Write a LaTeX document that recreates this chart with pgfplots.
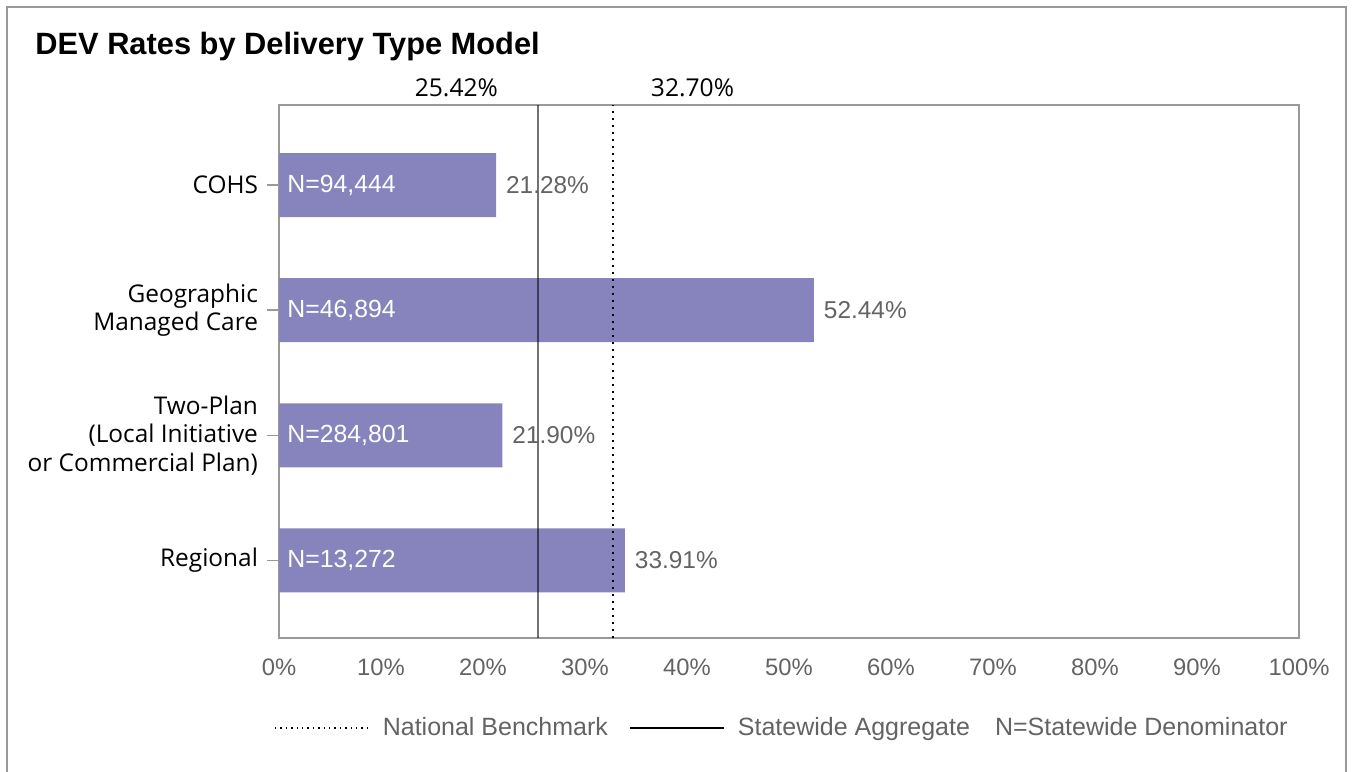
\documentclass[border=0pt]{standalone}
\usepackage{pgfplots}
\pgfplotsset{compat=1.18}
\usepackage{fontspec}
\setmainfont{Liberation Sans}
\newfontfamily\osans{Open Sans}
\definecolor{barcol}{HTML}{8783BD}
\definecolor{txtgray}{HTML}{636363}
\definecolor{framegray}{HTML}{999999}

\begin{document}
\begin{tikzpicture}
% page: 1352 x 771 px at 0.5pt per px
\path[use as bounding box] (0pt,0pt) rectangle (676pt,385.5pt);
\draw[framegray, line width=0.9pt] (3.5pt,-5pt) -- (3.5pt,382pt) -- (673pt,382pt) -- (673pt,-5pt);
\node[anchor=base west, inner sep=0, font=\bfseries\fontsize{15.4}{18}\selectfont] at (17.5pt,358pt) {DEV Rates by Delivery Type Model};

\begin{axis}[
  at={(139.5pt,66.5pt)}, anchor=south west,
  scale only axis, width=510pt, height=266.5pt,
  xmin=0, xmax=100, ymin=-0.62, ymax=3.64,
  axis line style={framegray, line width=0.8pt},
  xtick={0,10,...,100},
  xticklabel={\pgfmathprintnumber{\tick}\%},
  /pgf/number format/assume math mode=true,
  xticklabel style={text=txtgray, font=\fontsize{11.9}{14}\selectfont, yshift=-1pt},
  xtick style={draw=none},
  ytick={0,1,2,3},
  yticklabels={Regional,{Two-Plan\\(Local Initiative\\or Commercial Plan)},{Geographic\\Managed Care},COHS},
  yticklabel style={align=right, font=\osans\fontsize{12.2}{14.2}\selectfont, xshift=-1pt},
  ytick pos=left, tick align=outside, major tick length=6pt,
  ytick style={framegray, line width=0.8pt},
  legend columns=3,
  legend style={at={(0.494,-0.169)}, anchor=center, draw=none, fill=none,
    font=\fontsize{12.5}{14}\selectfont, text=txtgray,
    /tikz/every odd column/.append style={column sep=4.5pt},
    /tikz/every even column/.append style={column sep=8.5pt}},
  legend image code/.code={\draw[#1] (0pt,0pt) -- (47pt,0pt);},
  clip=false,
]
% bars with rate labels
\addplot[xbar, fill=barcol, draw=none, bar width=32pt, forget plot,
  point meta=x,
  nodes near coords={\pgfmathprintnumber[fixed,fixed zerofill,precision=2]{\pgfplotspointmeta}\%},
  nodes near coords style={text=txtgray, font=\fontsize{12.2}{14}\selectfont, xshift=1.5pt}]
  coordinates {(21.28,3) (52.44,2) (21.90,1) (33.91,0)};
% denominators inside the bars
\addplot[draw=none, mark=none, forget plot,
  point meta=explicit symbolic,
  nodes near coords,
  nodes near coords align=horizontal,
  every node near coord/.append style={anchor=west, text=white, inner sep=0pt, xshift=4pt,
    font=\fontsize{12.4}{14}\selectfont}]
  coordinates {(0,3) [N=94,444] (0,2) [N=46,894] (0,1) [N=284,801] (0,0) [N=13,272]};
% statewide aggregate and national benchmark
\addplot[black, opacity=0.55, line width=0.9pt, forget plot]
  coordinates {(25.42,-0.62) (25.42,3.64)};
\addplot[black, line width=1pt, dash pattern=on 0.9pt off 2.6pt, forget plot]
  coordinates {(32.70,-0.62) (32.70,3.64)};
\node[anchor=base east, inner sep=0, font=\osans\fontsize{12.3}{14}\selectfont] at ([xshift=-20pt,yshift=4pt]axis cs:25.42,3.64) {25.42\%};
\node[anchor=base west, inner sep=0, font=\osans\fontsize{12.3}{14}\selectfont] at ([xshift=19pt,yshift=4pt]axis cs:32.70,3.64) {32.70\%};

\addlegendimage{black, line width=0.8pt, dash pattern=on 0.7pt off 2pt}
\addlegendentry{National Benchmark}
\addlegendimage{black, line width=1pt}
\addlegendentry{Statewide Aggregate}
\addlegendimage{empty legend}
\addlegendentry{\hspace{-4.5pt}N=Statewide Denominator}
\end{axis}
\end{tikzpicture}
\end{document}
